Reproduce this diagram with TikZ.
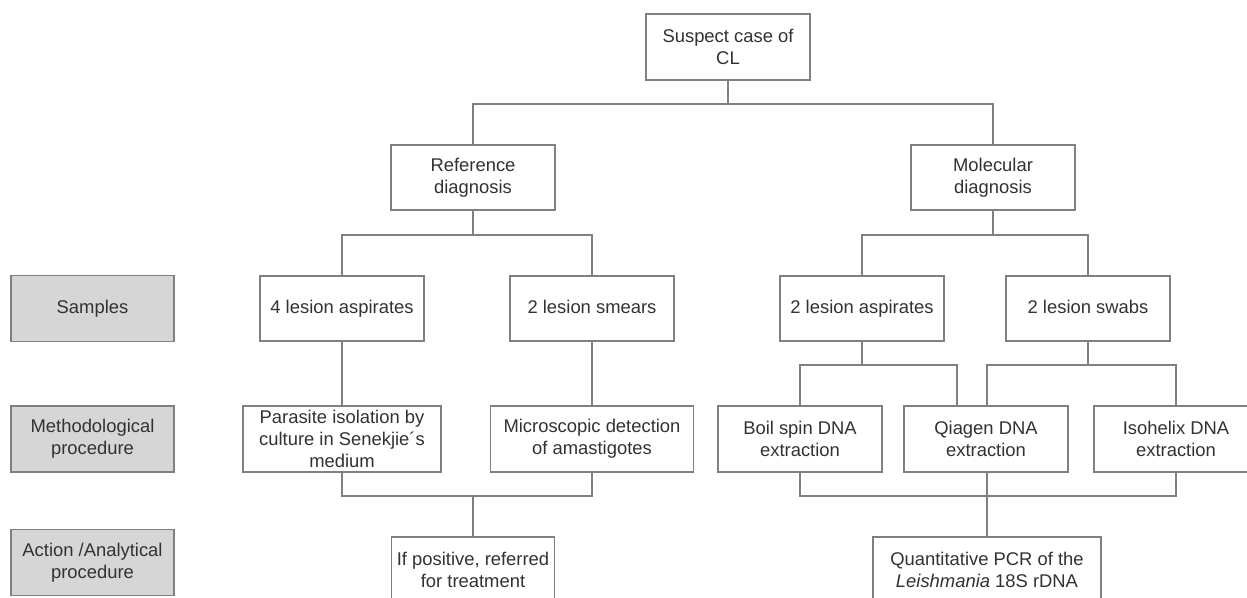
\documentclass[tikz,border=0pt]{standalone}
\usepackage{fontspec}
\setmainfont{Liberation Sans}
\definecolor{linec}{RGB}{128,128,128}
\definecolor{txtc}{RGB}{50,50,50}
\definecolor{labfill}{RGB}{214,214,214}
\tikzset{
  box/.style={draw=linec, line width=1.4pt, fill=white, text=txtc, align=center, inner sep=0pt,
    minimum height=66pt, font=\fontsize{18.4}{21.8}\selectfont},
  oneline/.style={text height=13.2pt, text depth=3.9pt},
  labbox/.style={box, fill=labfill, minimum width=163pt},
  conn/.style={draw=linec, line width=1.4pt}
}
\begin{document}
\begin{tikzpicture}[x=1pt,y=-1pt]
\useasboundingbox (0,0) rectangle (1247,597);
\clip (0,0) rectangle (1247,597);
\fill[white] (0,0) rectangle (1247,597);

% row labels
\node[labbox, oneline] (lsamp) at (92.5,308.5) {Samples};
\node[labbox] (lmeth) at (92.5,439) {Methodological\\procedure};
\node[labbox] (lact) at (92.5,562.5) {Action /Analytical\\procedure};

% tree nodes
\node[box, minimum width=164pt] (top) at (728,47) {Suspect case of\\CL};
\node[box, minimum width=164pt, minimum height=65pt] (ref) at (473,177.5) {Reference\\diagnosis};
\node[box, minimum width=164pt, minimum height=65pt] (mol) at (993,177.5) {Molecular\\diagnosis};

\node[box, oneline, minimum width=164pt, minimum height=65pt] (asp4) at (342,308.5) {4 lesion aspirates};
\node[box, oneline, minimum width=164pt, minimum height=65pt] (smears) at (592,308.5) {2 lesion smears};
\node[box, oneline, minimum width=164pt, minimum height=65pt] (asp2) at (862,308.5) {2 lesion aspirates};
\node[box, oneline, minimum width=164pt, minimum height=65pt] (swabs) at (1088,308.5) {2 lesion swabs};

\node[box, minimum width=198pt] (paras) at (342,439) {Parasite isolation by\\culture in Senekjie´s\\medium};
\node[box, minimum width=203pt] (micro) at (592,439) {Microscopic detection\\of amastigotes};
\node[box, minimum width=164pt] (boil) at (800,439) {Boil spin DNA\\extraction};
\node[box, minimum width=164pt] (qiagen) at (986,439) {Qiagen DNA\\extraction};
\node[box, minimum width=164pt] (iso) at (1176,439) {Isohelix DNA\\extraction};

\node[box, minimum width=163pt] (ifpos) at (473,570) {If positive, referred\\for treatment};
\node[box, minimum width=228pt] (qpcr) at (987,570) {Quantitative PCR of the\\\textit{Leishmania} 18S rDNA};

% junctions
\coordinate (j1) at (728,104);
\coordinate (j2) at (473,235);
\coordinate (j3) at (993,235);
\coordinate (j4) at (862,365);
\coordinate (j5) at (1088,365);
\coordinate (j6) at (473,496);
\coordinate (j7) at (987,496);

% connectors
\draw[conn] (top.south) -- (j1);
\draw[conn] (ref.north) |- (j1) -| (mol.north);
\draw[conn] (ref.south) -- (j2);
\draw[conn] (asp4.north) |- (j2) -| (smears.north);
\draw[conn] (mol.south) -- (j3);
\draw[conn] (asp2.north) |- (j3) -| (swabs.north);
\draw[conn] (asp4.south) -- (paras.north);
\draw[conn] (smears.south) -- (micro.north);
\draw[conn] (asp2.south) -- (j4);
\draw[conn] (boil.north) |- (j4) -| ([xshift=-29pt]qiagen.north);
\draw[conn] (swabs.south) -- (j5);
\draw[conn] ([xshift=1pt]qiagen.north) |- (j5) -| (iso.north);
\draw[conn] (paras.south) |- (j6) -| (micro.south);
\draw[conn] (j6) -- (ifpos.north);
\draw[conn] (boil.south) |- (j7) -| (iso.south);
\draw[conn] ([xshift=1pt]qiagen.south) -- (qpcr.north);
\end{tikzpicture}
\end{document}
